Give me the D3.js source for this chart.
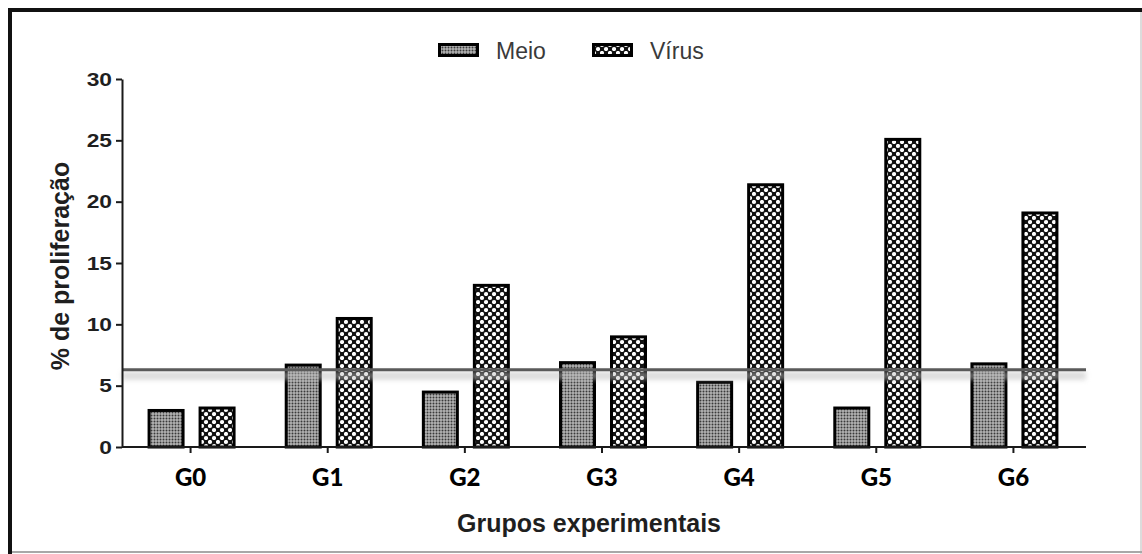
<!DOCTYPE html>
<html>
<head>
<meta charset="utf-8">
<script src="https://cdn.jsdelivr.net/npm/d3@7"></script>
<style>
  body { margin: 0; background: #fff; }
  svg { display: block; }
</style>
</head>
<body>
<svg id="chart" width="1142" height="554"></svg>
<script>
// Proliferation (%) per experimental group, medium vs. virus stimulation
const groups = ["G0", "G1", "G2", "G3", "G4", "G5", "G6"];
const meio = [3.1, 6.8, 4.6, 7.0, 5.4, 3.3, 6.9];
const virus = [3.3, 10.6, 13.3, 9.1, 21.5, 25.2, 19.2];
const seriesNames = ["Meio", "Vírus"];
const yTicks = [0, 5, 10, 15, 20, 25, 30];
const cutoff = 6.3;

const svg = d3.select("#chart");
const defs = svg.append("defs");

// fine grey stipple for "Meio"
const pMeio = defs.append("pattern").attr("id", "pat-meio")
  .attr("patternUnits", "userSpaceOnUse").attr("width", 3).attr("height", 3);
pMeio.append("rect").attr("width", 3).attr("height", 3).attr("fill", "#b4b4b4");
pMeio.append("circle").attr("cx", 1.5).attr("cy", 1.5).attr("r", 1.0).attr("fill", "#3a3a3a");

// coarse checker of white dots on black for "Vírus"
const pVir = defs.append("pattern").attr("id", "pat-virus")
  .attr("patternUnits", "userSpaceOnUse").attr("width", 8).attr("height", 8);
pVir.append("rect").attr("width", 8).attr("height", 8).attr("fill", "#111");
pVir.append("circle").attr("cx", 2).attr("cy", 2).attr("r", 2.1).attr("fill", "#fff");
pVir.append("circle").attr("cx", 6).attr("cy", 6).attr("r", 2.1).attr("fill", "#fff");

const blur = defs.append("filter").attr("id", "soft")
  .attr("x", "-5%").attr("y", "-100%").attr("width", "110%").attr("height", "300%");
blur.append("feGaussianBlur").attr("stdDeviation", 2.5);

const fills = { "Meio": "url(#pat-meio)", "Vírus": "url(#pat-virus)" };

// frame
svg.append("line").attr("x1", 8).attr("x2", 1142).attr("y1", 10).attr("y2", 10)
  .attr("stroke", "#111").attr("stroke-width", 4);
svg.append("line").attr("x1", 10).attr("x2", 10).attr("y1", 8).attr("y2", 554)
  .attr("stroke", "#111").attr("stroke-width", 4);
svg.append("line").attr("x1", 1141).attr("x2", 1141).attr("y1", 12).attr("y2", 554)
  .attr("stroke", "#d0d0d0").attr("stroke-width", 1.5);
svg.append("line").attr("x1", 12).attr("x2", 1142).attr("y1", 552).attr("y2", 552)
  .attr("stroke", "#a8a8a8").attr("stroke-width", 2);

const x = d3.scaleBand().domain(groups).range([122, 1082]);
const y = d3.scaleLinear().domain([0, 30]).range([447, 79]);
const barW = 34;
const offsets = { "Meio": -41.5, "Vírus": 9.5 };

const rows = groups.map((g, i) => ({ g, Meio: meio[i], "Vírus": virus[i] }));

// bars
const gBars = svg.append("g");
seriesNames.forEach(s => {
  gBars.selectAll(null).data(rows).join("rect")
    .attr("x", d => x(d.g) + x.bandwidth() / 2 + offsets[s])
    .attr("y", d => y(d[s]) + 1.5)
    .attr("width", barW)
    .attr("height", d => y(0) - y(d[s]) - 1.5)
    .attr("fill", fills[s])
    .attr("stroke", "#000")
    .attr("stroke-width", 3);
});

// cut-off line with its soft shadow
const yc = y(cutoff);
svg.append("rect").attr("x", 122).attr("width", 964).attr("y", yc + 2).attr("height", 8)
  .attr("fill", "#bdbdbd").attr("opacity", 0.55).attr("filter", "url(#soft)");
svg.append("line").attr("x1", 122).attr("x2", 1086).attr("y1", yc).attr("y2", yc)
  .attr("stroke", "#5a5a5a").attr("stroke-width", 3);

// axes
const sx = 1.2;
const yAxis = svg.append("g").attr("transform", "translate(122,0)")
  .call(d3.axisLeft(y).tickValues(yTicks).tickSize(6).tickSizeOuter(0).tickPadding(4));
yAxis.select(".domain").attr("stroke", "#1a1a1a").attr("stroke-width", 2);
yAxis.selectAll(".tick line").attr("stroke", "#1a1a1a").attr("stroke-width", 2);
yAxis.selectAll(".tick text")
  .attr("x", -10 / sx).attr("transform", `scale(${sx},1)`)
  .attr("fill", "#1f1f1f")
  .style("font-family", "'Liberation Sans', Arial, sans-serif")
  .style("font-weight", "bold").style("font-size", "19px");

const xAxis = svg.append("g").attr("transform", `translate(0,${y(0)})`)
  .call(d3.axisBottom(x).tickSize(6).tickSizeOuter(0).tickPadding(16));
xAxis.select(".domain").attr("stroke", "#1a1a1a").attr("stroke-width", 2)
  .attr("d", "M122,0H1086");
xAxis.selectAll(".tick line").attr("stroke", "#1a1a1a").attr("stroke-width", 2);
xAxis.selectAll(".tick text")
  .attr("fill", "#000")
  .style("font-family", "Lato, 'Open Sans', sans-serif")
  .style("font-weight", "900").style("font-size", "24px");

// axis titles
svg.append("text")
  .attr("transform", "translate(69,266) rotate(-90)")
  .attr("text-anchor", "middle")
  .attr("fill", "#1f1f1f")
  .style("font-family", "'Liberation Sans', Arial, sans-serif")
  .style("font-weight", "bold").style("font-size", "25px")
  .text("% de proliferação");

svg.append("text")
  .attr("x", 589).attr("y", 532)
  .attr("text-anchor", "middle")
  .attr("fill", "#1f1f1f")
  .style("font-family", "'Liberation Sans', Arial, sans-serif")
  .style("font-weight", "bold").style("font-size", "25px")
  .text("Grupos experimentais");

// legend
const legendX = [438, 592];
const leg = svg.append("g").selectAll("g").data(seriesNames).join("g")
  .attr("transform", (d, i) => `translate(${legendX[i]},43)`);
leg.append("rect").attr("x", 1.5).attr("y", 1.5).attr("width", 38).attr("height", 11)
  .attr("fill", d => fills[d]).attr("stroke", "#000").attr("stroke-width", 3);
leg.append("text").attr("x", 58).attr("y", 16)
  .attr("fill", "#3a3a3a")
  .style("font-family", "'Liberation Sans', Arial, sans-serif")
  .style("font-size", "23px")
  .text(d => d);
</script>
</body>
</html>
